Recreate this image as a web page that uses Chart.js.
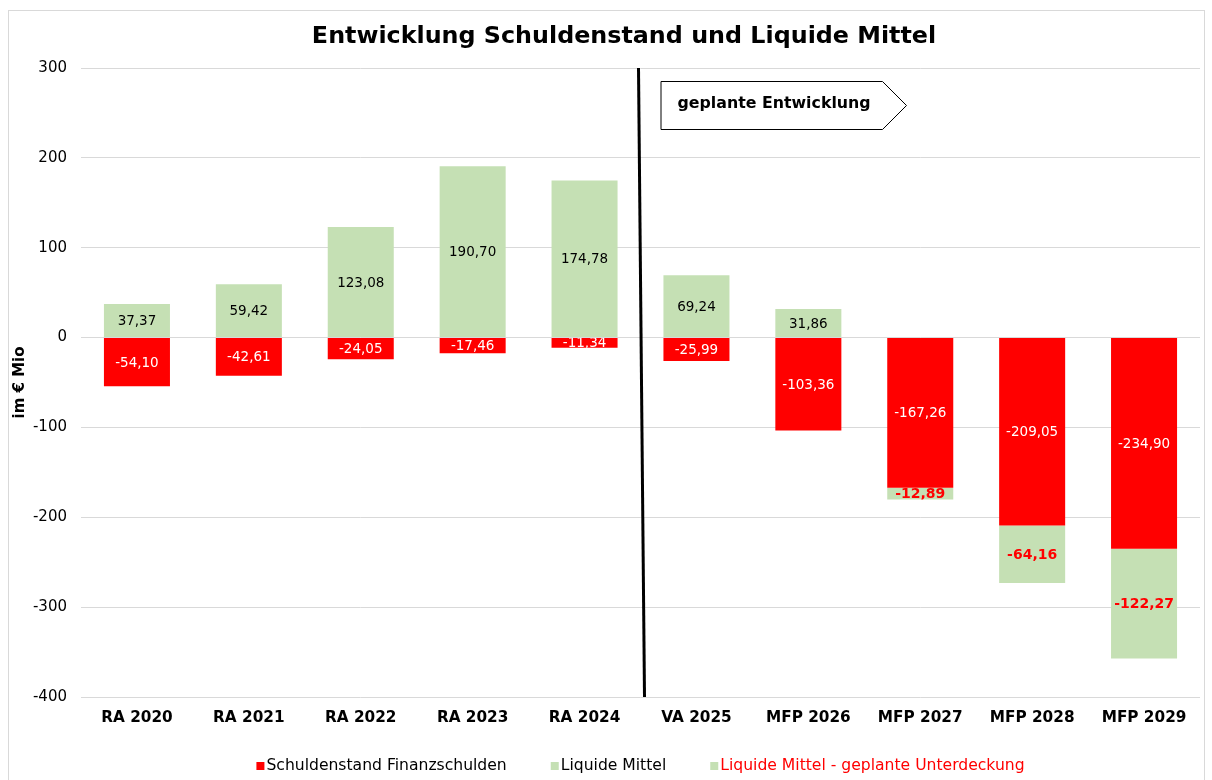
<!DOCTYPE html>
<html>
<head>
<meta charset="utf-8">
<script src="https://cdn.jsdelivr.net/npm/chart.js@4"></script>
<style>
    html, body { margin: 0; padding: 0; background: #fff; }
    #wrap { position: relative; width: 1212px; height: 780px; overflow: hidden; }
    #frame { position: absolute; left: 8px; top: 10px; width: 1197px; height: 790px; border: 1px solid #d9d9d9; box-sizing: border-box; }
    canvas { position: absolute; left: 0; top: 0; }
</style>
</head>
<body>
<div id="wrap">
    <div id="frame"></div>
    <canvas id="chart" width="1212" height="780"></canvas>
</div>
<script>
const categories = ['RA 2020', 'RA 2021', 'RA 2022', 'RA 2023', 'RA 2024', 'VA 2025', 'MFP 2026', 'MFP 2027', 'MFP 2028', 'MFP 2029'];
const schulden = [-54.10, -42.61, -24.05, -17.46, -11.34, -25.99, -103.36, -167.26, -209.05, -234.90];
const liquide = [37.37, 59.42, 123.08, 190.70, 174.78, 69.24, 31.86, null, null, null];
const unterdeckung = [null, null, null, null, null, null, null, -12.89, -64.16, -122.27];
const seriesNames = ['Schuldenstand Finanzschulden', 'Liquide Mittel', 'Liquide Mittel - geplante Unterdeckung'];
const yMin = -400, yMax = 300, yStep = 100;
const titleText = 'Entwicklung Schuldenstand und Liquide Mittel';
const arrowText = 'geplante Entwicklung';
const splitAfter = 4; // line between RA 2024 and VA 2025

const RED = '#ff0000';
const GREEN = '#c5e0b4';
const FONT = '"DejaVu Sans", Verdana, sans-serif';

function fmt(v) {
    return v.toFixed(2).replace('.', ',');
}

// data labels in the middle of each bar piece, clipped to the piece
const barLabels = {
    id: 'barLabels',
    afterDatasetsDraw(chart) {
        const ctx = chart.ctx;
        chart.data.datasets.forEach((ds, i) => {
            const meta = chart.getDatasetMeta(i);
            meta.data.forEach((bar, j) => {
                const v = ds.data[j];
                if (v == null) return;
                const p = bar.getProps(['x', 'y', 'base', 'width'], true);
                const top = Math.min(p.y, p.base);
                const h = Math.abs(p.base - p.y);
                ctx.save();
                ctx.beginPath();
                ctx.rect(p.x - p.width / 2, top, p.width, h);
                ctx.clip();
                ctx.font = ds.labelFont;
                ctx.fillStyle = ds.labelColor;
                ctx.textAlign = 'center';
                ctx.textBaseline = 'middle';
                ctx.fillText(fmt(v), p.x, top + h / 2 + 1);
                ctx.restore();
            });
        });
    }
};

// title, split line, arrow box and legend
const extras = {
    id: 'extras',
    afterDraw(chart) {
        const ctx = chart.ctx;
        const area = chart.chartArea;
        const x = chart.scales.x;

        // title
        ctx.save();
        ctx.font = 'bold 23.8px ' + FONT;
        ctx.fillStyle = '#000';
        ctx.textAlign = 'center';
        ctx.textBaseline = 'middle';
        ctx.fillText(titleText, 624, 37);
        ctx.restore();

        // split line
        const mid = x.getPixelForValue(splitAfter + 0.5);
        ctx.save();
        ctx.strokeStyle = '#000';
        ctx.lineWidth = 3;
        ctx.beginPath();
        ctx.moveTo(mid - 2, area.top);
        ctx.lineTo(mid + 4, area.bottom);
        ctx.stroke();
        ctx.restore();

        // arrow box
        const bx = mid + 20, by = area.top + 13, bw = 222, bh = 49, tip = 24;
        ctx.save();
        ctx.fillStyle = '#fff';
        ctx.strokeStyle = '#000';
        ctx.lineWidth = 1;
        ctx.beginPath();
        ctx.moveTo(bx + 0.5, by + 0.5);
        ctx.lineTo(bx + bw, by + 0.5);
        ctx.lineTo(bx + bw + tip, by + bh / 2);
        ctx.lineTo(bx + bw, by + bh - 0.5);
        ctx.lineTo(bx + 0.5, by + bh - 0.5);
        ctx.closePath();
        ctx.fill();
        ctx.stroke();
        ctx.font = 'bold 15.8px ' + FONT;
        ctx.fillStyle = '#000';
        ctx.textAlign = 'left';
        ctx.textBaseline = 'middle';
        ctx.fillText(arrowText, bx + 17, by + bh / 2 - 2);
        ctx.restore();

        // legend
        ctx.save();
        ctx.font = '15.6px ' + FONT;
        ctx.textBaseline = 'middle';
        ctx.textAlign = 'left';
        const items = chart.data.datasets.map(ds => ({
            text: ds.label, box: ds.backgroundColor, color: ds.legendColor,
            w: ctx.measureText(ds.label).width
        }));
        const boxW = 8, textGap = 10, itemGap = 44;
        let total = 0;
        items.forEach((it, k) => { total += textGap + it.w + (k ? itemGap : 0); });
        let lx = (area.left + area.right) / 2 - total / 2;
        const ly = 766;
        items.forEach(it => {
            ctx.fillStyle = it.box;
            ctx.fillRect(lx, ly - 4, boxW, boxW);
            ctx.fillStyle = it.color;
            ctx.fillText(it.text, lx + textGap, ly);
            lx += textGap + it.w + itemGap;
        });
        ctx.restore();
    }
};

new Chart(document.getElementById('chart'), {
    type: 'bar',
    data: {
        labels: categories,
        datasets: [
            {
                label: seriesNames[0], data: schulden, backgroundColor: RED,
                labelColor: '#fff', labelFont: '13.5px ' + FONT, legendColor: '#000'
            },
            {
                label: seriesNames[1], data: liquide, backgroundColor: GREEN,
                labelColor: '#000', labelFont: '13.5px ' + FONT, legendColor: '#000'
            },
            {
                label: seriesNames[2], data: unterdeckung, backgroundColor: GREEN,
                labelColor: RED, labelFont: 'bold 14px ' + FONT, legendColor: RED
            }
        ]
    },
    options: {
        responsive: false,
        animation: false,
        layout: { padding: { top: 68, right: 12, bottom: 0, left: 0 } },
        datasets: { bar: { barPercentage: 0.59, categoryPercentage: 1.0 } },
        plugins: {
            legend: { display: false },
            title: { display: false },
            tooltip: { enabled: false }
        },
        scales: {
            x: {
                stacked: true,
                grid: { display: false, drawTicks: false },
                border: { display: false },
                ticks: { color: '#000', padding: 12, font: { family: FONT, size: 15.3, weight: 'bold' } },
                afterFit(scale) { scale.height = 83; }
            },
            y: {
                stacked: true,
                min: yMin,
                max: yMax,
                ticks: { stepSize: yStep, color: '#000', padding: 14, font: { family: FONT, size: 15 } },
                grid: { color: '#d9d9d9', lineWidth: 1, drawTicks: false },
                border: { display: false },
                title: {
                    display: true, text: 'im € Mio', color: '#000',
                    font: { family: FONT, size: 15, weight: 'bold' },
                    padding: { top: 11, bottom: 0 }
                },
                afterFit(scale) { scale.width = 81; }
            }
        }
    },
    plugins: [barLabels, extras]
});
</script>
</body>
</html>
